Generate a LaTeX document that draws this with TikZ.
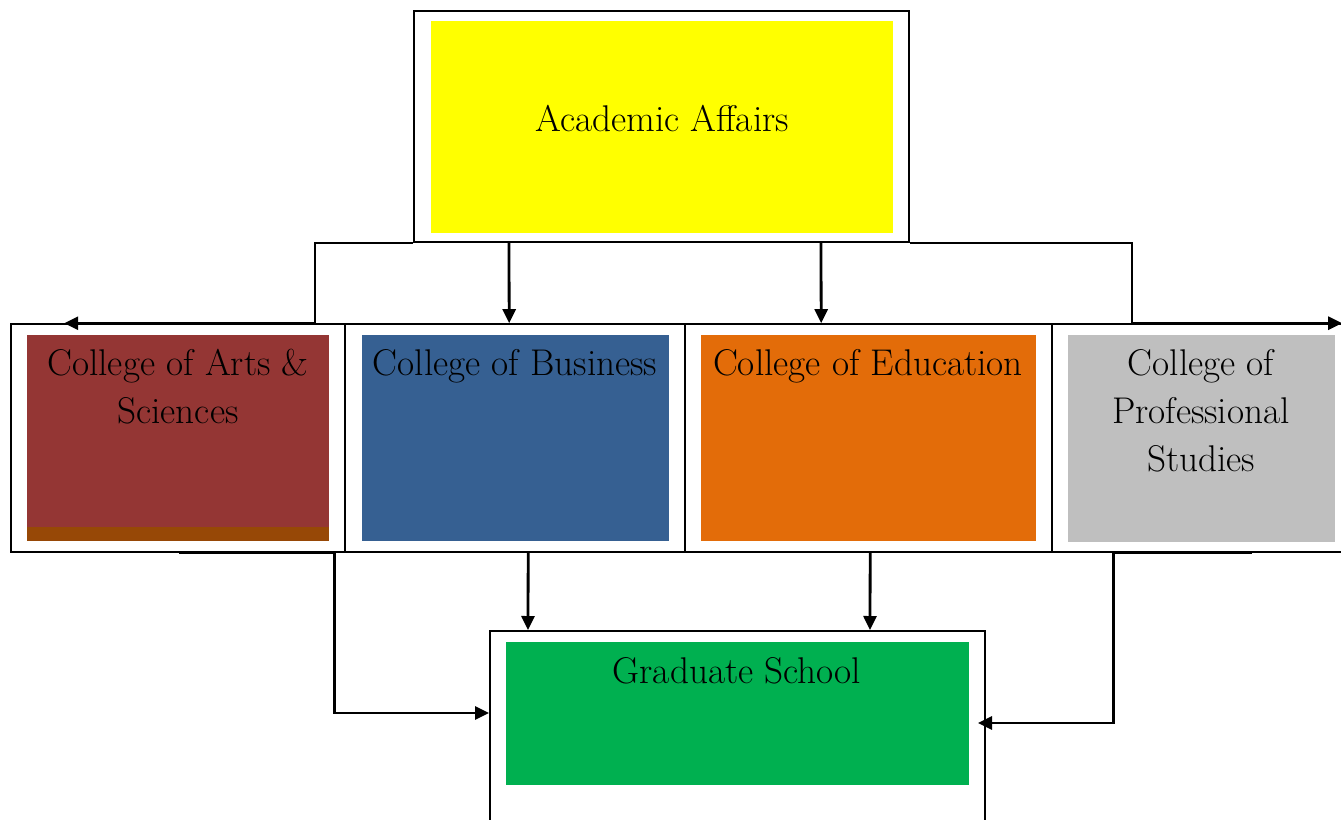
\documentclass[tikz,border=0pt]{standalone}
\usetikzlibrary{arrows.meta,calc,fit}
\definecolor{aayellow}{HTML}{FFFF00}
\definecolor{artsred}{HTML}{943634}
\definecolor{artsbrown}{HTML}{974806}
\definecolor{busblue}{HTML}{366092}
\definecolor{eduorange}{HTML}{E36C09}
\definecolor{profgrey}{HTML}{BFBFBF}
\definecolor{gradgreen}{HTML}{00B050}
\begin{document}
\begin{tikzpicture}[x=0.5pt,y=-0.5pt,
  outer/.style={draw=black,line width=0.8pt,inner sep=0pt,fill=white},
  fillbox/.style={inner sep=0pt,draw=none},
  conn/.style={line width=1.4pt},
  arr/.style={conn,-{Triangle[length=7pt,width=6.5pt]}},
  lbl/.style={font=\fontsize{18.6}{24}\selectfont,align=center,inner sep=0pt}]
\useasboundingbox (0,0) rectangle (1341,820);
\clip (0,0) rectangle (1341,820);
\fill[white] (0,0) rectangle (1341,820);

% Academic Affairs
\node[outer,line width=1pt,fit={(414,11) (909,242)}] (aa) {};
\node[fillbox,fill=aayellow,fit={(431,21) (893,233)}] (aafill) {};
\node[lbl,anchor=base] (aatext) at (662,131) {Academic Affairs};

% Colleges
\node[outer,fit={(11,324) (345,552)}] (arts) {};
\node[fillbox,fill=artsred,fit={(27,335) (329,527)}] (artsfill) {};
\node[fillbox,fill=artsbrown,fit={(27,527) (329,541)}] (artsstripe) {};
\node[lbl,anchor=north] (artstext) at (178,349) {College of Arts \&\\Sciences};

\node[outer,fit={(345,324) (685,552)}] (bus) {};
\node[fillbox,fill=busblue,fit={(362,335) (669,541)}] (busfill) {};
\node[lbl,anchor=north] (bustext) at (515,349) {College of Business};

\node[outer,fit={(685,324) (1052,552)}] (edu) {};
\node[fillbox,fill=eduorange,fit={(701,335) (1036,541)}] (edufill) {};
\node[lbl,anchor=north] (edutext) at (868,349) {College of Education};

\node[outer,fit={(1052,324) (1360,552)}] (prof) {};
\node[fillbox,fill=profgrey,fit={(1068,335) (1335,542)}] (proffill) {};
\node[lbl,anchor=north] (proftext) at (1201,349) {College of\\Professional\\Studies};

% Graduate School
\node[outer,line width=1pt,fit={(490,631) (985,840)}] (grad) {};
\node[fillbox,fill=gradgreen,fit={(506,642) (969,785)}] (gradfill) {};
\node[lbl,anchor=base] (gradtext) at (737,683) {Graduate School};

% Connectors from Academic Affairs
\draw[arr] (aa.south west) -- ++(-98,0) |- ($(arts.north west)+(54,0)$);
\draw[arr] (aa.south east) -- ++(222,0) |- ($(prof.north west)+(291,0)$);
\draw[arr] ($(aa.south west)+(96,0)$) -- ($(bus.north west)+(165,0)$);
\draw[arr] ($(aa.south west)+(408,0)$) -- ($(edu.north west)+(137,0)$);

% Connectors to Graduate School
\draw[arr] ($(arts.south west)+(169,0)$) -- ($(arts.south west)+(324,0)$) |- ($(grad.north west)+(0,83)$);
\draw[arr] ($(bus.south west)+(184,0)$) -- ($(grad.north west)+(39,0)$);
\draw[arr] ($(edu.south west)+(186,0)$) -- ($(grad.north west)+(381,0)$);
\draw[arr] ($(prof.south west)+(201,0)$) -- ($(prof.south west)+(62,0)$) |- ($(grad.north east)+(-8,93)$);
\end{tikzpicture}
\end{document}
